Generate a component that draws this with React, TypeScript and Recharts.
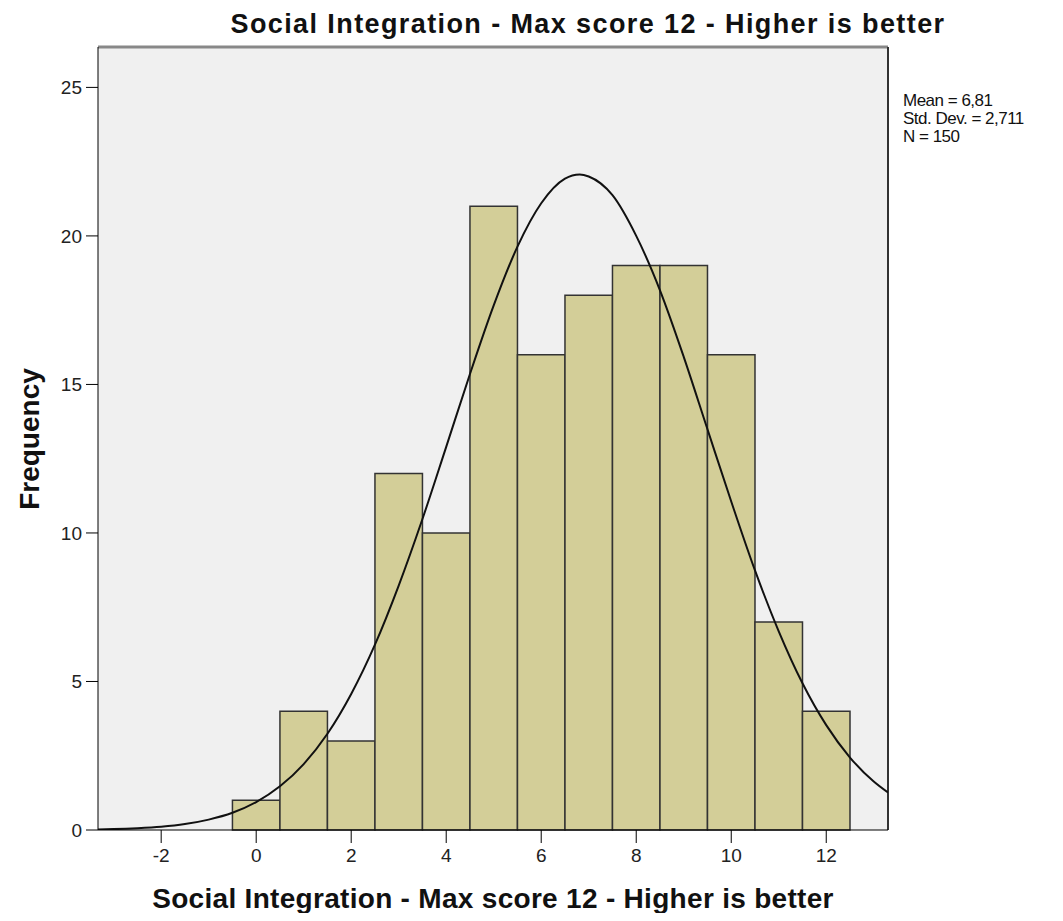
import React from 'react';
import { ComposedChart, Line, XAxis, YAxis, ReferenceArea, ReferenceLine, CartesianGrid } from 'recharts';

// histogram bins (score) and counts
const scores = [0, 1, 2, 3, 4, 5, 6, 7, 8, 9, 10, 11, 12];
const counts = [1, 4, 3, 12, 10, 21, 16, 18, 19, 19, 16, 7, 4];

// fitted normal curve
const curveX = [-3.33, -3, -2.5, -2, -1.5, -1, -0.5, 0, 0.5, 1, 1.5, 2, 2.5, 3, 3.5, 4, 4.5, 5, 5.5, 6, 6.5, 6.81, 7, 7.5, 8, 8.5, 9, 9.5, 10, 10.5, 11, 11.5, 12, 12.5, 13, 13.3];
const curveY = [0.02, 0.03, 0.06, 0.11, 0.2, 0.35, 0.58, 0.94, 1.47, 2.22, 3.24, 4.58, 6.24, 8.23, 10.47, 12.9, 15.35, 17.66, 19.64, 21.1, 21.93, 22.07, 22.0, 21.37, 20.0, 18.17, 15.93, 13.49, 11.06, 8.74, 6.69, 4.94, 3.53, 2.44, 1.63, 1.26];

const xTicks = [-2, 0, 2, 4, 6, 8, 10, 12];
const yTicks = [0, 5, 10, 15, 20, 25];
const xDomain: [number, number] = [-3.33, 13.3];
const yDomain: [number, number] = [0, 26.36];

const title = 'Social Integration - Max score 12 - Higher is better';
const stats = ['Mean = 6,81', 'Std. Dev. = 2,711', 'N = 150'];

const curveData = curveX.map((x, i) => ({ x, y: curveY[i] }));

const font = 'Arial, "Liberation Sans", sans-serif';

export default function App() {
  return (
    <div style={{ position: 'relative', width: 1055, height: 905, fontFamily: font }}>
      <div style={{ position: 'absolute', left: 0, width: 1160, top: 1, textAlign: 'center', fontSize: 27, letterSpacing: 1.4, fontWeight: 'bold', color: '#111', whiteSpace: 'nowrap' }}>
        {title}
      </div>
      <ComposedChart
        width={1055}
        height={905}
        data={curveData}
        margin={{ top: 39, right: 175, bottom: 43, left: 40 }}
      >
        <CartesianGrid horizontal={false} vertical={false} fill="#f0f0f0" />
        <XAxis
          dataKey="x"
          type="number"
          domain={xDomain}
          allowDataOverflow
          ticks={xTicks}
          height={40}
          tickSize={13}
          tickMargin={6}
          stroke="#000"
          tick={{ fill: '#222', fontSize: 19, fontFamily: font }}
        />
        <YAxis
          type="number"
          domain={yDomain}
          allowDataOverflow
          ticks={yTicks}
          width={50}
          tickSize={12}
          tickMargin={4}
          stroke="#000"
          tick={{ fill: '#222', fontSize: 19, fontFamily: font }}
        />
        {scores.map((s, i) => (
          <ReferenceArea
            key={s}
            x1={s - 0.5}
            x2={s + 0.5}
            y1={0}
            y2={counts[i]}
            fill="#d3ce98"
            fillOpacity={1}
            stroke="#333"
            strokeWidth={1.5}
          />
        ))}
        <ReferenceLine y={yDomain[1]} stroke="#888" strokeWidth={3} />
        <ReferenceLine x={xDomain[1]} stroke="#333" strokeWidth={2} />
        <Line dataKey="y" type="monotone" stroke="#111" strokeWidth={2} dot={false} isAnimationActive={false} />
      </ComposedChart>
      <div style={{ position: 'absolute', left: 895, top: 84, fontSize: 17, letterSpacing: -0.5, lineHeight: '18px', color: '#111' }}>
        {stats.map(s => <div key={s}>{s}</div>)}
      </div>
      <div style={{ position: 'absolute', left: 0, width: 970, top: 876, textAlign: 'center', fontSize: 28, letterSpacing: 0.3, fontWeight: 'bold', color: '#111', whiteSpace: 'nowrap', lineHeight: '30px' }}>
        {title}
      </div>
      <div style={{ position: 'absolute', left: 22, top: 431, transform: 'translate(-50%, -50%) rotate(-90deg)', fontSize: 28, fontWeight: 'bold', color: '#111', whiteSpace: 'nowrap' }}>
        Frequency
      </div>
    </div>
  );
}
